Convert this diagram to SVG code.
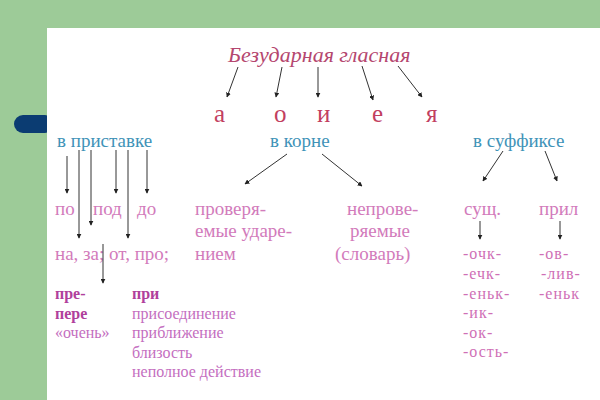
<svg xmlns="http://www.w3.org/2000/svg" width="600" height="400" viewBox="0 0 600 400">
<style>
.s{font-family:"Liberation Serif","Times New Roman",serif}
.title{font-size:22px;font-style:italic;fill:#b5476f}
.v{font-size:25px;fill:#c2405f}
.cat{font-size:19px;fill:#3f93b8}
.p{font-size:19px;fill:#d27bbb}
.sf{font-size:16px;fill:#cf6fb6;letter-spacing:1px}
.b{font-size:16px;fill:#b0409c;font-weight:bold}
.n{font-size:16px;fill:#c46ec0}
.ar{stroke:#333;stroke-width:1;fill:none;marker-end:url(#ah)}
</style>
<defs>
<marker id="ah" viewBox="0 0 8 8" refX="7" refY="4" markerWidth="5" markerHeight="5" orient="auto" markerUnits="userSpaceOnUse">
<path d="M0,0 L8,4 L0,8 z" fill="#222"/>
</marker>
</defs>
<rect x="0" y="0" width="600" height="400" fill="#9dcb98"/>
<rect x="14" y="115" width="40" height="18" rx="9" fill="#0b3c72"/>
<rect x="47" y="28" width="553" height="372" fill="#ffffff"/>
<g id="title"><text class="s title" x="228" y="62">Безударная гласная</text></g>
<g id="vowels">
<text class="s v" x="214" y="122">а</text>
<text class="s v" x="274" y="122">о</text>
<text class="s v" x="317" y="122">и</text>
<text class="s v" x="372" y="122">е</text>
<text class="s v" x="426" y="122">я</text>
</g>
<g id="cat-prefix"><text class="s cat" x="57" y="147">в приставке</text></g>
<g id="cat-root"><text class="s cat" x="270" y="147">в корне</text></g>
<g id="cat-suffix"><text class="s cat" x="473" y="147">в суффиксе</text></g>
<g id="prefixes">
<text class="s p" x="55" y="215">по</text>
<text class="s p" x="93" y="215">под</text>
<text class="s p" x="137" y="215">до</text>
<text class="s p" x="55" y="260">на, за; от, про;</text>
</g>
<g id="root-checked">
<text class="s p" x="195" y="215">проверя-</text>
<text class="s p" x="195" y="237">емые ударе-</text>
<text class="s p" x="195" y="260">нием</text>
</g>
<g id="root-unchecked">
<text class="s p" x="347" y="215">непрове-</text>
<text class="s p" x="350" y="237">ряемые</text>
<text class="s p" x="335" y="260">(словарь)</text>
</g>
<g id="noun">
<text class="s p" x="464" y="215">сущ.</text>
<text class="s sf" x="463" y="259">-очк-</text>
<text class="s sf" x="463" y="279">-ечк-</text>
<text class="s sf" x="463" y="299">-еньк-</text>
<text class="s sf" x="463" y="318">-ик-</text>
<text class="s sf" x="463" y="338">-ок-</text>
<text class="s sf" x="463" y="357">-ость-</text>
</g>
<g id="adj">
<text class="s p" x="539" y="215">прил</text>
<text class="s sf" x="539" y="259">-ов-</text>
<text class="s sf" x="541" y="279">-лив-</text>
<text class="s sf" x="539" y="299">-еньк</text>
</g>
<g id="pre">
<text class="s b" x="55" y="299">пре-</text>
<text class="s b" x="55" y="319">пере</text>
<text class="s n" x="55" y="338">«очень»</text>
</g>
<g id="pri">
<text class="s b" x="132" y="299">при</text>
<text class="s n" x="132" y="319">присоединение</text>
<text class="s n" x="132" y="338">приближение</text>
<text class="s n" x="132" y="358">близость</text>
<text class="s n" x="132" y="377">неполное действие</text>
</g>
<g id="connectors">
<line class="ar" x1="238" y1="67" x2="227" y2="97"/>
<line class="ar" x1="282" y1="67" x2="276" y2="97"/>
<line class="ar" x1="318" y1="67" x2="318" y2="97"/>
<line class="ar" x1="362" y1="66" x2="373" y2="100"/>
<line class="ar" x1="398" y1="66" x2="422" y2="97"/>
<line class="ar" x1="67" y1="156" x2="67" y2="193"/>
<line class="ar" x1="79" y1="150" x2="79" y2="238"/>
<line class="ar" x1="91" y1="150" x2="91" y2="225"/>
<line class="ar" x1="116" y1="150" x2="116" y2="193"/>
<line class="ar" x1="128" y1="150" x2="128" y2="238"/>
<line class="ar" x1="147" y1="150" x2="147" y2="193"/>
<line class="ar" x1="103" y1="244" x2="103" y2="283"/>
<line class="ar" x1="287" y1="154" x2="245" y2="184"/>
<line class="ar" x1="322" y1="154" x2="362" y2="186"/>
<line class="ar" x1="503" y1="151" x2="483" y2="181"/>
<line class="ar" x1="545" y1="151" x2="557" y2="181"/>
<line class="ar" x1="480" y1="221" x2="480" y2="239"/>
<line class="ar" x1="560" y1="221" x2="560" y2="239"/>
</g>
</svg>
